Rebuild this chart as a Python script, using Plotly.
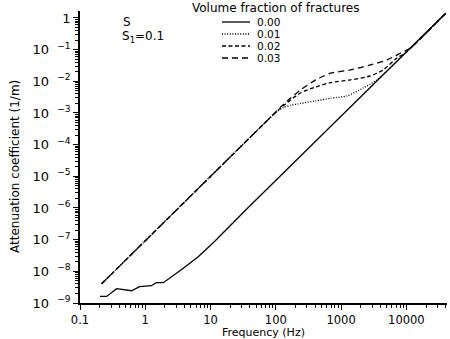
import plotly.graph_objects as go

# ---- data ----
freq_000 = [0.202, 0.256, 0.364, 0.482, 0.616, 0.817, 1.24, 1.48, 1.89, 3.56, 6.47, 11.4, 20.6, 34.9, 689, 40000]
att_000 = [1.61e-9, 1.61e-9, 2.83e-9, 2.63e-9, 2.44e-9, 3.27e-9, 3.51e-9, 4.37e-9, 4.37e-9,
           1.12e-8, 2.89e-8, 8.6e-8, 2.95e-7, 8.8e-7, 3.72e-4, 1.41]

freq_001 = [0.215, 30, 75.5, 100, 132, 169, 240, 407, 689, 1240, 2190, 3550, 5660, 8040, 9590, 40000]
att_001 = [4.06e-9, 9.3e-5, 6.05e-4, 1.03e-3, 1.5e-3, 1.75e-3, 2.0e-3, 2.41e-3, 2.93e-3, 3.46e-3,
           6.19e-3, 0.0111, 0.0265, 0.0543, 0.0776, 1.41]

freq_002 = [0.215, 30, 75.5, 119, 169, 240, 407, 689, 1390, 2806, 4430, 7160, 9590, 40000]
att_002 = [4.06e-9, 9.3e-5, 6.05e-4, 1.45e-3, 2.59e-3, 4.31e-3, 6.65e-3, 9.09e-3, 0.01107, 0.0148,
           0.0229, 0.0547, 0.0776, 1.41]

freq_003 = [0.215, 30, 75.5, 119, 169, 240, 407, 689, 1390, 2806, 5045, 8040, 11430, 40000]
att_003 = [4.06e-9, 9.3e-5, 6.05e-4, 1.56e-3, 2.99e-3, 5.36e-3, 0.0111, 0.0180, 0.0229, 0.0329,
           0.0473, 0.0769, 0.111, 1.41]

series_labels = ["0.00", "0.01", "0.02", "0.03"]
x_tick_vals = [0.1, 1, 10, 100, 1000, 10000]
x_tick_text = ["0.1", "1", "10", "100", "1000", "10000"]
y_exponents = [-9, -8, -7, -6, -5, -4, -3, -2, -1, 0]

FONT = "DejaVu Sans"
dashes = ["solid", "1px,1.6px", "4px,2.5px", "6px,4px"]
shapes_ = ["linear", "spline", "spline", "spline"]
xs = [freq_000, freq_001, freq_002, freq_003]
ys = [att_000, att_001, att_002, att_003]

fig = go.Figure()
for f, a, d, sh, name in zip(xs, ys, dashes, shapes_, series_labels):
    line = dict(color="black", width=1.3, dash=d, shape=sh)
    if sh == "spline":
        line["smoothing"] = 0.6
    fig.add_trace(go.Scatter(x=f, y=a, mode="lines", name=name, line=line, showlegend=False))

y_tick_vals = [10.0 ** e for e in y_exponents]
y_tick_text = ["1" if e == 0 else "10\u00a0\u00a0<sup>\u2212%d</sup>" % (-e) for e in y_exponents]

minor_x = [k * 10.0 ** n for n in range(-1, 5) for k in range(2, 10)]
minor_y = [k * 10.0 ** n for n in range(-9, 1) for k in range(2, 10)]

fig.update_xaxes(type="log", range=[-1.0, 4.622], showline=True, linecolor="black", linewidth=1.5,
                 ticks="outside", ticklen=5, tickwidth=1.3, tickcolor="black",
                 tickvals=x_tick_vals, ticktext=x_tick_text,
                 minor=dict(ticks="outside", ticklen=3, tickwidth=1, tickcolor="black",
                            tickvals=minor_x, showgrid=False),
                 showgrid=False, zeroline=False,
                 tickfont=dict(family=FONT, size=11.5, color="black"))
fig.update_yaxes(type="log", range=[-9, 0.22], showline=True, linecolor="black", linewidth=1.5,
                 ticks="outside", ticklen=5, tickwidth=1.3, tickcolor="black",
                 tickvals=y_tick_vals, ticktext=y_tick_text,
                 minor=dict(ticks="outside", ticklen=3, tickwidth=1, tickcolor="black",
                            tickvals=minor_y, showgrid=False),
                 showgrid=False, zeroline=False,
                 tickfont=dict(family=FONT, size=13, color="black"))

plot_top, plot_bottom, plot_left, plot_right = 11, 303, 80, 447
def px_x(px):
    return (px - plot_left) / (plot_right - plot_left)
def px_y(py):
    return (plot_bottom - py) / (plot_bottom - plot_top)

# axis titles placed like the reference
fig.add_annotation(text="Attenuation coefficient (1/m)", xref="paper", yref="paper",
                   x=px_x(15), y=px_y(167), textangle=-90, xanchor="center", yanchor="middle",
                   showarrow=False, font=dict(family=FONT, size=12, color="black"))
fig.add_annotation(text="Frequency (Hz)", xref="paper", yref="paper",
                   x=px_x(263), y=px_y(332), xanchor="center", yanchor="middle",
                   showarrow=False, font=dict(family=FONT, size=11, color="black"))

# legend drawn manually (compact, as in the reference)
legend_rows_px = [22, 34, 46, 58]
for lbl, d, row in zip(series_labels, dashes, legend_rows_px):
    fig.add_shape(type="line", xref="paper", yref="paper",
                  x0=px_x(222), x1=px_x(250), y0=px_y(row), y1=px_y(row),
                  line=dict(color="black", width=1.3, dash=d))
    fig.add_annotation(text=lbl, xref="paper", yref="paper", x=px_x(255), y=px_y(row),
                       xanchor="left", yanchor="middle", showarrow=False,
                       font=dict(family=FONT, size=10.5, color="black"))

fig.add_annotation(text="Volume fraction of fractures", xref="paper", yref="paper",
                   x=px_x(275), y=px_y(8), xanchor="center", yanchor="middle", showarrow=False,
                   font=dict(family=FONT, size=12, color="black"))
fig.add_annotation(text="S", xref="paper", yref="paper", x=px_x(121), y=px_y(22),
                   xanchor="left", yanchor="middle", showarrow=False,
                   font=dict(family=FONT, size=12, color="black"))
fig.add_annotation(text="S<sub>1</sub>=0.1", xref="paper", yref="paper", x=px_x(120), y=px_y(37),
                   xanchor="left", yanchor="middle", showarrow=False,
                   font=dict(family=FONT, size=12, color="black"))

fig.update_layout(width=450, height=339,
                  margin=dict(l=plot_left, r=450 - plot_right, t=plot_top, b=339 - plot_bottom, autoexpand=False),
                  paper_bgcolor="white", plot_bgcolor="white",
                  font=dict(family=FONT, color="black"))

fig.write_html("out.html")
